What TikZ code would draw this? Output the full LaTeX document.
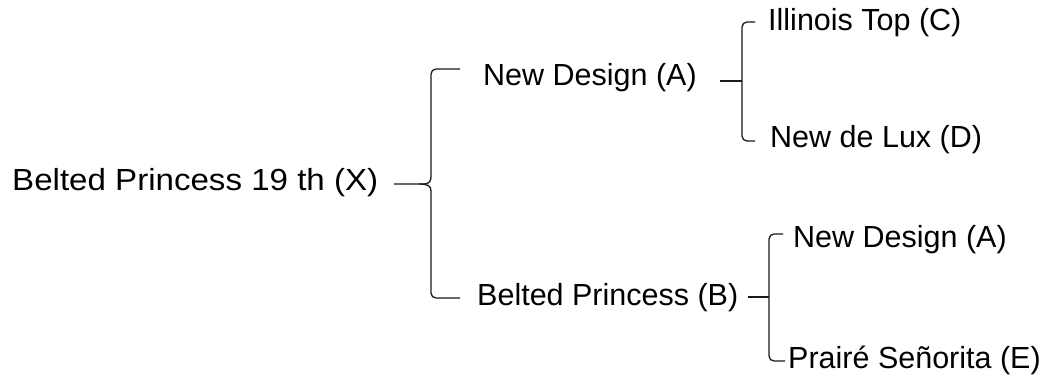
\documentclass[tikz,border=0pt]{standalone}
\usepackage{fontspec}
\setmainfont{Liberation Sans}
\begin{document}
\begin{tikzpicture}[x=1pt,y=-1pt,
  lbl/.style={anchor=base west,inner sep=0pt,font=\fontsize{30.5}{36}\selectfont},
  brace/.style={draw=black!90,line width=1.3pt,rounded corners=5pt}]
\useasboundingbox (0,0) rectangle (1043,377);
\node[lbl] (x) at (12,190) {\scalebox{1.085}[1]{Belted Princess 19 th (X)}};
\node[lbl] (a) at (483,86) {New Design (A)};
\node[lbl] (b) at (477,305) {Belted Princess (B)};
\node[lbl] (c) at (768,31) {Illinois Top (C)};
\node[lbl] (d) at (770,147) {New de Lux (D)};
\node[lbl] (a2) at (793,247) {New Design (A)};
\node[lbl] (e) at (788,368) {Prairé Señorita (E)};
% main brace
\coordinate (t0) at (394,184);
\coordinate (m1) at (431,69);
\coordinate (m2) at (431,298);
\draw[brace] (t0) -- (419,184) [sharp corners] .. controls (428,184) and (431,182) .. (431,177) [rounded corners=5pt] -- (m1) -- (460,69);
\draw[brace] (419,184) [sharp corners] .. controls (428,184) and (431,186) .. (431,191) [rounded corners=5pt] -- (m2) -- (460,298);
% brace for A
\coordinate (t1) at (720,81);
\draw[brace] (t1) -- (742,81);
\draw[brace] (755,22) -- (742,22) -- (742,141) -- (755,141);
% brace for B
\coordinate (t2) at (748,297);
\draw[brace] (t2) -- (769,297);
\draw[brace] (783,234) -- (769,234) -- (769,361) -- (785,361);
\end{tikzpicture}
\end{document}
